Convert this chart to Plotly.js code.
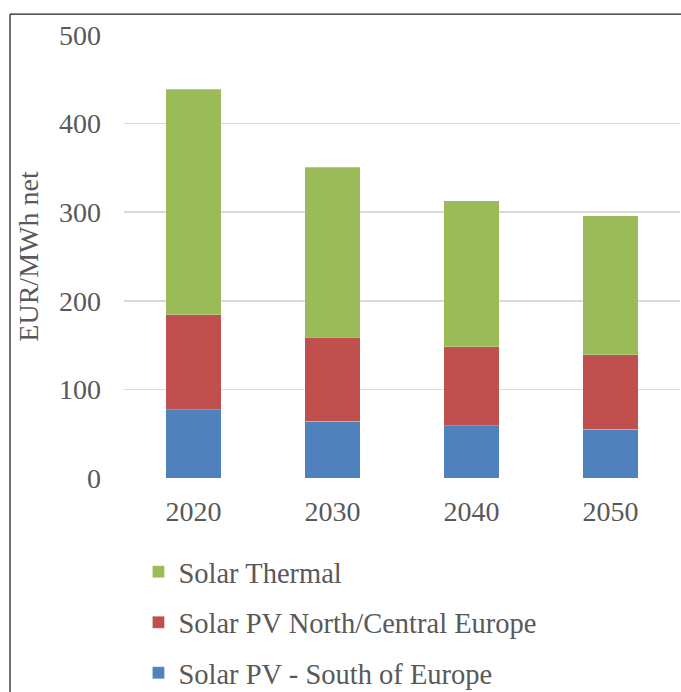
<!DOCTYPE html>
<html>
<head>
<meta charset="utf-8">
<script src="https://cdn.plot.ly/plotly-3.0.1.min.js"></script>
<style>html,body{margin:0;padding:0;background:#fff;}#chart{width:681px;height:692px;}</style>
</head>
<body>
<div id="chart"></div>
<script>
const years = ['2020', '2030', '2040', '2050'];
const pvSouth = [77, 64, 59, 55];
const pvNorthCentral = [107, 95, 89, 84];
const solarThermal = [255, 192, 165, 157];
const seriesNames = ['Solar PV - South of Europe', 'Solar PV North/Central Europe', 'Solar Thermal'];
const seriesColors = ['#4F81BD', '#C0504D', '#9BBB59'];
const yTicks = [0, 100, 200, 300, 400, 500];

const font = 'Liberation Serif';
const grey = '#595959';
const seriesValues = [pvSouth, pvNorthCentral, solarThermal];

const traces = seriesValues.map((vals, i) => ({
  type: 'bar',
  x: years,
  y: vals,
  name: seriesNames[i],
  legendgroup: 'g' + i,
  legendrank: 1000 - i,
  marker: {color: seriesColors[i], line: {color: 'rgba(255,255,255,0.5)', width: 0.5}},
  hoverinfo: 'skip'
}));

const layout = {
  width: 681,
  height: 692,
  margin: {l: 124, r: 1, t: 35, b: 214},
  paper_bgcolor: '#fff',
  plot_bgcolor: '#fff',
  barmode: 'stack',
  bargap: 0.6,
  font: {family: font, color: grey, size: 28},
  xaxis: {
    type: 'category',
    showgrid: false,
    showline: false,
    zeroline: false,
    ticks: '',
    tickfont: {family: font, size: 28, color: grey},
    ticklabelstandoff: 14
  },
  yaxis: {
    range: [0, 500],
    tickvals: yTicks,
    showgrid: true,
    gridcolor: '#d9d9d9',
    gridwidth: 1.5,
    zeroline: false,
    showline: false,
    ticks: '',
    tickfont: {family: font, size: 28, color: grey},
    ticklabelstandoff: 22,
    title: {text: 'EUR/MWh net', font: {family: font, size: 28, color: grey}, standoff: 12}
  },
  showlegend: true,
  legend: {
    orientation: 'v',
    xref: 'paper',
    x: 0.026,
    xanchor: 'left',
    yref: 'container',
    y: 0.21,
    yanchor: 'top',
    traceorder: 'grouped',
    tracegroupgap: 10.5,
    font: {family: font, size: 28.5, color: grey},
    itemwidth: 30
  },
  shapes: [
    {type: 'line', xref: 'paper', yref: 'paper', x0: -0.205, x1: 1.01, y0: 1.047, y1: 1.047, line: {color: '#222', width: 1.3}},
    {type: 'line', xref: 'paper', yref: 'paper', x0: -0.205, x1: -0.205, y0: 1.047, y1: -0.49, line: {color: '#222', width: 1.3}}
  ]
};

Plotly.newPlot('chart', traces, layout, {displayModeBar: false, staticPlot: true});
</script>
</body>
</html>
